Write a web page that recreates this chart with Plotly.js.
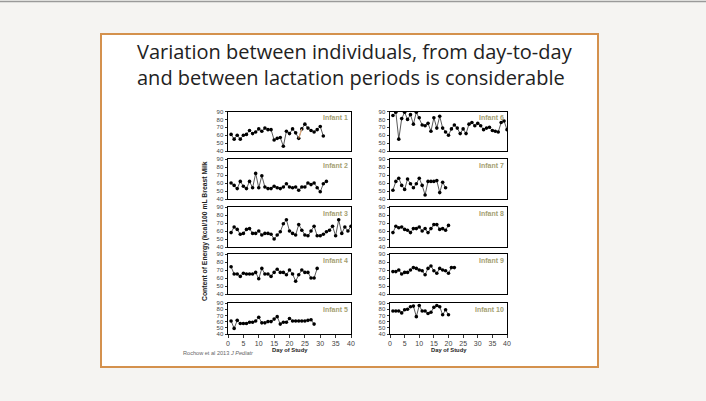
<!DOCTYPE html>
<html><head><meta charset="utf-8">
<script src="https://cdn.plot.ly/plotly-3.0.1.min.js"></script>
<style>html,body{margin:0;padding:0;background:#f5f4f2;overflow:hidden}</style>
</head><body><div id="chart" style="width:706px;height:401px"></div>
<script>
// ---- data (kcal/100 mL per study day) ----
const infantNames = ["Infant 1","Infant 2","Infant 3","Infant 4","Infant 5","Infant 6","Infant 7","Infant 8","Infant 9","Infant 10"];
const infant1 = [61,55,60,55,60,61,66,62,64,68,65,69,67,67,54,56,57,46,65,62,68,63,56,68,74,69,66,64,67,71,59];
const infant2 = [60,57,53,62,56,53,62,54,72,54,69,55,53,53,56,54,53,55,59,55,54,55,51,55,55,60,58,60,54,49,59,62];
const infant3 = [58,65,62,56,57,62,63,57,57,60,55,57,57,56,50,55,59,69,74,60,57,55,68,61,55,54,60,66,54,54,56,59,61,66,54,74,57,65,60,66];
const infant4 = [74,65,65,62,66,65,65,65,67,59,72,65,65,62,67,71,67,67,64,70,65,56,64,70,67,67,60,60,72];
const infant5 = [61,49,62,57,57,57,59,59,61,67,58,58,60,60,64,68,56,59,59,65,61,61,61,61,61,62,63,56];
const infant6 = [85,89,55,81,89,80,86,74,89,82,73,72,75,65,82,69,84,69,64,60,68,73,69,62,68,62,74,76,72,75,72,67,69,70,66,65,64,76,78,67];
const infant7 = [51,62,66,57,52,65,59,54,59,66,57,45,62,62,62,63,48,61,54];
const infant8 = [58,66,64,65,62,61,58,63,63,65,60,63,58,63,68,68,62,63,61,67];
const infant9 = [68,68,70,65,67,67,70,73,72,70,69,64,72,75,69,66,72,70,69,66,73,73];
const infant10 = [77,77,77,74,79,80,84,85,68,86,77,77,73,75,83,86,84,71,79,71];
const allSeries = [infant1,infant2,infant3,infant4,infant5,infant6,infant7,infant8,infant9,infant10];
const xTicks = [0,5,10,15,20,25,30,35,40];
const yTicks = [40,50,60,70,80,90];
const highlightDays = [23,24]; // segment drawn in orange in the source figure

// ---- layout geometry (pixels) ----
const W = 706, H = 401;
const colX = [[228,351],[390,507]];
const rowY = [[111.5,151],[159,199],[207,247],[254,294],[303,334]];

const traces = [];
const layout = {
  width: W, height: H,
  margin: {l:0,r:0,t:0,b:0},
  paper_bgcolor: '#f5f4f2',
  plot_bgcolor: '#ffffff',
  showlegend: false,
  font: {family: 'Liberation Sans, Arial, sans-serif', color: '#444'},
  shapes: [
    {type:'rect', xref:'paper', yref:'paper', x0:101/W, x1:598/W, y0:1-367/H, y1:1-34/H,
     fillcolor:'#ffffff', line:{color:'#d4914d', width:2}, layer:'below'},
    {type:'line', xref:'paper', yref:'paper', x0:0, x1:1, y0:1-1.5/H, y1:1-1.5/H,
     line:{color:'#9a9a9a', width:1.5}, layer:'below'}
  ],
  annotations: [
    {text:'Variation between individuals, from day-to-day<br>and between lactation periods is considerable',
     xref:'paper', yref:'paper', x:135/W, y:1-64/H, xanchor:'left', yanchor:'middle', align:'left',
     showarrow:false, font:{family:'Open Sans, Noto Sans, sans-serif', size:20, color:'#222'}},
    {text:'<b>Content of Energy (kcal/100 mL Breast Milk</b>', xref:'paper', yref:'paper',
     x:205/W, y:1-231/H, textangle:-90, xanchor:'center', yanchor:'middle', showarrow:false,
     font:{size:6.8, color:'#222'}},
    {text:'<b>Day of Study</b>', xref:'paper', yref:'paper', x:290/W, y:1-350/H,
     xanchor:'center', yanchor:'middle', showarrow:false, font:{size:5.8, color:'#222'}},
    {text:'<b>Day of Study</b>', xref:'paper', yref:'paper', x:449/W, y:1-350/H,
     xanchor:'center', yanchor:'middle', showarrow:false, font:{size:5.8, color:'#222'}},
    {text:'Rochow et al 2013 <i>J Pediatr</i>', xref:'paper', yref:'paper', x:181/W, y:1-353/H,
     xanchor:'left', yanchor:'middle', showarrow:false, font:{size:5.6, color:'#666'}}
  ]
};

allSeries.forEach((vals, i) => {
  const col = i < 5 ? 0 : 1;
  const row = i % 5;
  const n = i + 1;
  const xa = n === 1 ? 'x' : 'x' + n;
  const ya = n === 1 ? 'y' : 'y' + n;
  const bottom = row === 4;
  const days = vals.map((_, k) => k + 1);
  traces.push({
    type:'scatter', mode:'lines+markers', x: days, y: vals, xaxis: xa, yaxis: ya,
    line:{color:'#111', width:0.7}, marker:{color:'#000', size:3.6, symbol:'circle'},
    hoverinfo:'skip'
  });
  if (i === 0) {
    traces.push({
      type:'scatter', mode:'lines', x: highlightDays, y: highlightDays.map(d => vals[d-1]),
      xaxis: xa, yaxis: ya, line:{color:'#f2b27a', width:1}, hoverinfo:'skip'
    });
  }
  const [l, r] = colX[col];
  const [t, b] = rowY[row];
  layout[n === 1 ? 'xaxis' : 'xaxis' + n] = {
    domain:[l/W, r/W], anchor: ya, range:[0,40], showgrid:false, zeroline:false,
    showline:true, linecolor:'#000', linewidth:1, mirror:true,
    tickvals: bottom ? xTicks : [], showticklabels: bottom,
    ticks: bottom ? 'outside' : '', ticklen:2.5, tickcolor:'#000', tickwidth:0.8,
    tickfont:{size:7, color:'#444'}
  };
  layout[n === 1 ? 'yaxis' : 'yaxis' + n] = {
    domain:[1-b/H, 1-t/H], anchor: xa, range:[40,90], showgrid:false, zeroline:false,
    showline:true, linecolor:'#000', linewidth:1, mirror:true,
    tickvals: yTicks, ticks:'outside', ticklen:2.5, tickcolor:'#000', tickwidth:0.8,
    tickfont:{size:6, color:'#444'}
  };
  layout.annotations.push({
    text:'<b>' + infantNames[i] + '</b>', xref: xa + ' domain', yref: ya + ' domain',
    x:0.995, y:0.98, xanchor:'right', yanchor:'top', showarrow:false,
    font:{size:7, color:'#a59f72'}
  });
});

Plotly.newPlot('chart', traces, layout, {displayModeBar:false, staticPlot:true});
</script></body></html>
